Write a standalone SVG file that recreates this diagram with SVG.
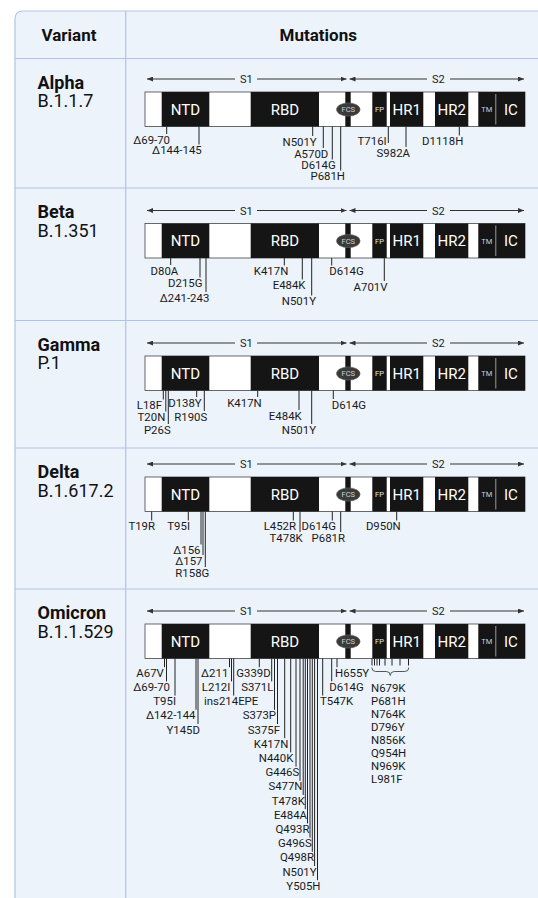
<svg xmlns="http://www.w3.org/2000/svg" xmlns:xlink="http://www.w3.org/1999/xlink" width="538" height="898" viewBox="0 0 538 898">
<style>
text{font-family:Roboto,"Liberation Sans",Arial,sans-serif}
.hd{font-size:17px;font-weight:700;fill:#111;text-anchor:middle}
.vn{font-size:18px;font-weight:700;fill:#111}
.vc{font-size:18px;fill:#111}
.grid{stroke:#AFC4E8;stroke-width:1.2;fill:none}
.blk{fill:#151515}
.dl{font-size:15px;fill:#fff;text-anchor:middle}
.sm{font-size:7.5px;fill:#e8e8e8;text-anchor:middle}
.sl{font-size:11px;fill:#222;text-anchor:middle}
.ar{stroke:#333;stroke-width:1;fill:none}
.m{font-size:11.4px;fill:#1a1a1a;text-anchor:end}
.ms{font-size:11.4px;fill:#1a1a1a;text-anchor:start}
.tk{stroke:#222;stroke-width:1;fill:none}
</style>
<defs>
<marker id="ah" viewBox="0 0 6 5" refX="6" refY="2.5" markerWidth="6" markerHeight="5" orient="auto-start-reverse" markerUnits="userSpaceOnUse"><path d="M0,0L6,2.5L0,5z" fill="#333"/></marker>
<g id="spike">
<path class="ar" d="M147,-13H235" marker-start="url(#ah)"/>
<path class="ar" d="M257,-13H346.5" marker-end="url(#ah)"/>
<text class="sl" x="246.3" y="-9">S1</text>
<path class="ar" d="M349.5,-13H427" marker-start="url(#ah)"/>
<path class="ar" d="M450,-13H524" marker-end="url(#ah)"/>
<text class="sl" x="438.3" y="-9">S2</text>
<rect x="145" y="0" width="380" height="34.5" fill="#fff" stroke="#444" stroke-width="0.8"/>
<rect class="blk" x="161.7" y="0" width="47.6" height="34.5"/>
<rect class="blk" x="250.7" y="0" width="68.3" height="34.5"/>
<rect class="blk" x="345.3" y="0" width="5.4" height="34.5"/>
<rect class="blk" x="372.3" y="0" width="14.4" height="34.5"/>
<rect class="blk" x="390" y="0" width="33.3" height="34.5"/>
<rect class="blk" x="435" y="0" width="33.3" height="34.5"/>
<rect class="blk" x="478.3" y="0" width="46.7" height="34.5"/>
<line x1="495.8" y1="2" x2="495.8" y2="32.5" stroke="#9a9a9a" stroke-width="1"/>
<ellipse cx="348.3" cy="17.5" rx="11.8" ry="6.6" fill="#3a3a3a" stroke="#666" stroke-width="0.6"/>
<text class="sm" x="348.3" y="20.3" style="fill:#cfcfcf">FCS</text>
<text class="dl" x="185.5" y="22.5">NTD</text>
<text class="dl" x="285" y="22.5">RBD</text>
<text class="sm" x="379.5" y="20.2">FP</text>
<text class="dl" x="406.7" y="22.5">HR1</text>
<text class="dl" x="451.7" y="22.5">HR2</text>
<text class="sm" x="486.7" y="20.2" style="fill:#cfcfcf">TM</text>
<text class="dl" x="510.8" y="22.5">IC</text>
</g>
</defs>
<rect width="538" height="898" fill="#fff"/>
<g id="table">
<path d="M15,898V19Q15,11 23,11H538V898Z" fill="#EDF3FB"/>
<path class="grid" d="M15,898V19Q15,11 23,11H538"/>
<path class="grid" d="M15,58.5H538M15,188H538M15,320.5H538M15,448H538M15,589H538M125.7,11V898"/>
<text class="hd" x="69" y="40.5">Variant</text>
<text class="hd" x="318.3" y="40.5">Mutations</text>
</g>
<g id="labels">
<text class="vn" x="37.5" y="88.5">Alpha</text><text class="vc" x="37.5" y="107">B.1.1.7</text>
<text class="vn" x="37.5" y="218">Beta</text><text class="vc" x="37.5" y="236.5">B.1.351</text>
<text class="vn" x="37.5" y="350.5">Gamma</text><text class="vc" x="37.5" y="369">P.1</text>
<text class="vn" x="37.5" y="478">Delta</text><text class="vc" x="37.5" y="496.5">B.1.617.2</text>
<text class="vn" x="37.5" y="619">Omicron</text><text class="vc" x="37.5" y="637.5">B.1.1.529</text>
</g>
<g id="alpha" transform="translate(0,92)">
<use xlink:href="#spike" href="#spike"/>
<path class="tk" d="M166.7,34.5V42M199,34.5V52.5M312.7,34.5V44M323.3,34.5V56M332.3,34.5V67.5M340.7,34.5V78.5M388.3,34.5V51M406,34.5V55M459.3,34.5V43.5"/>
<text class="m" x="170" y="51.5">Δ69-70</text>
<text class="m" x="201.7" y="62">Δ144-145</text>
<text class="m" x="316.7" y="53.5">N501Y</text>
<text class="m" x="328.3" y="65.5">A570D</text>
<text class="m" x="335.7" y="77">D614G</text>
<text class="m" x="345" y="88">P681H</text>
<text class="m" x="386.7" y="53">T716I</text>
<text class="m" x="410" y="64.5">S982A</text>
<text class="m" x="463.3" y="53">D1118H</text>
</g>
<g id="beta" transform="translate(0,223.5)">
<use xlink:href="#spike" href="#spike"/>
<path class="tk" d="M170.7,34.5V41.5M200,34.5V54M206,34.5V68.5M284.3,34.5V42M302.3,34.5V56M311.7,34.5V72M331.7,34.5V42M384.3,34.5V57.5"/>
<text class="m" x="178.3" y="51">D80A</text>
<text class="m" x="202.5" y="63.5">D215G</text>
<text class="m" x="209.3" y="78">Δ241-243</text>
<text class="m" x="288.3" y="51.5">K417N</text>
<text class="m" x="305.5" y="65.5">E484K</text>
<text class="m" x="316" y="81.5">N501Y</text>
<text class="ms" x="329.3" y="51.5">D614G</text>
<text class="m" x="387.5" y="67">A701V</text>
</g>
<g id="gamma" transform="translate(0,356)">
<use xlink:href="#spike" href="#spike"/>
<path class="tk" d="M163.3,34.5V43.5M165.8,34.5V55.5M168.3,34.5V68M196.7,34.5V41M204.3,34.5V55M257.7,34.5V41M299,34.5V54M311.7,34.5V68M333.3,34.5V43"/>
<text class="m" x="162" y="53">L18F</text>
<text class="m" x="165.3" y="65">T20N</text>
<text class="m" x="170.7" y="77.5">P26S</text>
<text class="m" x="201.7" y="50.5">D138Y</text>
<text class="m" x="207.3" y="64.5">R190S</text>
<text class="m" x="261.7" y="50.5">K417N</text>
<text class="m" x="301.7" y="63.5">E484K</text>
<text class="m" x="316" y="77.5">N501Y</text>
<text class="ms" x="331.7" y="52.5">D614G</text>
</g>
<g id="delta" transform="translate(0,477)">
<use xlink:href="#spike" href="#spike"/>
<path class="tk" d="M151.7,34.5V43.5M188.3,34.5V43.5M201,34.5V67.5M203,34.5V78M205.3,34.5V90M293.3,34.5V43.5M300,34.5V55M332.3,34.5V43.5M340.7,34.5V55M396.7,34.5V43.5"/>
<text class="m" x="155" y="53">T19R</text>
<text class="m" x="190" y="53">T95I</text>
<text class="m" x="200.5" y="77">Δ156</text>
<text class="m" x="202.5" y="87.5">Δ157</text>
<text class="m" x="209.3" y="99.5">R158G</text>
<text class="m" x="296" y="53">L452R</text>
<text class="m" x="302.7" y="64.5">T478K</text>
<text class="ms" x="301.5" y="53">D614G</text>
<text class="m" x="345" y="64.5">P681R</text>
<text class="m" x="400.7" y="53">D950N</text>
</g>
<g id="omicron" transform="translate(0,624)">
<use xlink:href="#spike" href="#spike"/>
<path class="tk" d="M164.5,34.5V43.2M166.5,34.5V57.4M175,34.5V71.6M196,34.5V85.8M198,34.5V100M229.5,34.5V43.2M231.5,34.5V57.4M233.7,34.5V71.6M259.3,34.5V43.2M271.7,34.5V57.4M274.5,34.5V85.8M277.5,34.5V100M284.7,34.5V114.2M290.7,34.5V128.4M296,34.5V142.6M300,34.5V156.8M303.2,34.5V171M305.3,34.5V185.2M307.5,34.5V199.4M310,34.5V213.6M312.3,34.5V227.8M314.6,34.5V242M317.5,34.5V256.2M322.7,34.5V71.6M331.7,34.5V57.4M337,34.5V43.2M372,34.5V41.5M374.5,34.5V41.5M377,34.5V41.5M379.5,34.5V41.5M385,34.5V41.5M392,34.5V41.5M400,34.5V41.5M408.5,34.5V41.5"/>
<path d="M371.8,43.5Q371.8,47.5 375.8,47.5H386.3Q390.3,47.5 390.3,51.5Q390.3,47.5 394.3,47.5H404.8Q408.8,47.5 408.8,43.5" stroke="#555" stroke-width="1" fill="none"/>
<text class="m" x="163.8" y="52.7">A67V</text>
<text class="m" x="170" y="66.9">Δ69-70</text>
<text class="m" x="176" y="81.1">T95I</text>
<text class="m" x="195.5" y="95.3">Δ142-144</text>
<text class="m" x="200" y="109.5">Y145D</text>
<text class="m" x="228.3" y="52.7">Δ211</text>
<text class="m" x="230.3" y="66.9">L212I</text>
<text class="ms" x="204" y="81.1">ins214EPE</text>
<text class="m" x="270.7" y="52.7">G339D</text>
<text class="m" x="273.3" y="66.9">S371L</text>
<text class="m" x="276" y="95.3">S373P</text>
<text class="m" x="280" y="109.5">S375F</text>
<text class="m" x="288.3" y="123.7">K417N</text>
<text class="m" x="293.3" y="137.9">N440K</text>
<text class="m" x="299.3" y="152.1">G446S</text>
<text class="m" x="302.5" y="166.3">S477N</text>
<text class="m" x="304.8" y="180.5">T478K</text>
<text class="m" x="307" y="194.7">E484A</text>
<text class="m" x="309.5" y="208.9">Q493R</text>
<text class="m" x="311.8" y="223.1">G496S</text>
<text class="m" x="314" y="237.3">Q498R</text>
<text class="m" x="316.6" y="251.5">N501Y</text>
<text class="m" x="320.5" y="265.7">Y505H</text>
<text class="ms" x="320" y="81.1">T547K</text>
<text class="ms" x="329.3" y="66.9">D614G</text>
<text class="ms" x="335" y="52.7">H655Y</text>
<text class="ms" x="371" y="67.7">N679K</text>
<text class="ms" x="371" y="80.7">P681H</text>
<text class="ms" x="371" y="93.7">N764K</text>
<text class="ms" x="371" y="106.7">D796Y</text>
<text class="ms" x="371" y="119.7">N856K</text>
<text class="ms" x="371" y="132.7">Q954H</text>
<text class="ms" x="371" y="145.7">N969K</text>
<text class="ms" x="371" y="158.7">L981F</text>
</g>
</svg>
